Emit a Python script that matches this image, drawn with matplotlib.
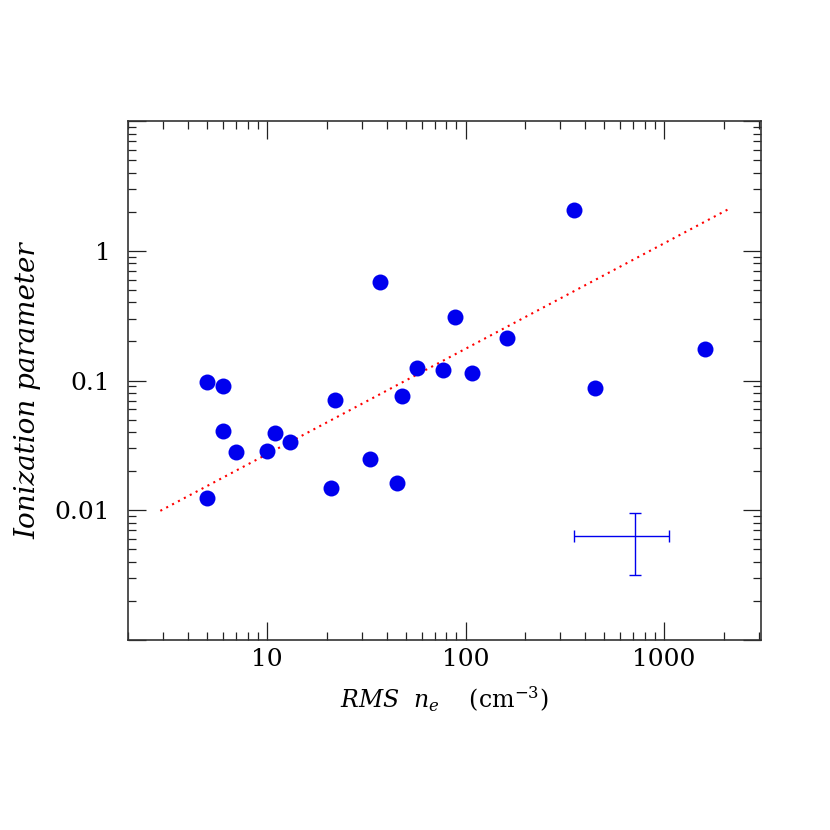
import matplotlib
matplotlib.use('Agg')
import matplotlib.pyplot as plt
from matplotlib.ticker import LogLocator, FixedLocator, FixedFormatter, NullFormatter

plt.rcParams['font.family'] = ['DejaVu Serif']
plt.rcParams['mathtext.fontset'] = 'dejavuserif'

# RMS electron density (cm^-3) and ionization parameter
density = [5, 6, 6, 7, 5, 10, 11, 13, 21, 22, 33, 37, 45, 48,
           57, 77, 88, 108, 162, 352, 449, 1600]
ionization = [0.097, 0.091, 0.041, 0.028, 0.0125, 0.0284, 0.0395, 0.0337,
              0.0149, 0.0705, 0.0247, 0.578, 0.0161, 0.0758,
              0.125, 0.120, 0.308, 0.114, 0.213, 2.07, 0.0877, 0.176]

# fitted relation (dotted line endpoints)
fit_x = [2.9, 2120]
fit_y = [0.0099, 2.1]

# typical error bar
err_x = [711]
err_y = [0.00634]
err_x_lo, err_x_hi = 350, 1062
err_y_lo, err_y_hi = 0.00316, 0.0095

x_ticks = [1, 10, 100, 1000, 10000]
x_ticklabels = ['', '10', '100', '1000', '']
y_ticks = [0.001, 0.01, 0.1, 1, 10]
y_ticklabels = ['', '0.01', '0.1', '1', '']

fig = plt.figure(figsize=(8.3, 8.3), dpi=100)
ax = fig.add_axes([0.1546, 0.2289, 0.7623, 0.6253])

ax.plot(fit_x, fit_y, color='red', ls=(0, (1, 2.2)), lw=1.5)
ax.plot(density, ionization, 'o', color='#0000ee', ms=11.5, mec='none')
ax.errorbar(err_x, err_y,
            xerr=[[err_x[0] - err_x_lo], [err_x_hi - err_x[0]]],
            yerr=[[err_y[0] - err_y_lo], [err_y_hi - err_y[0]]],
            fmt='none', ecolor='#0000ee', elinewidth=1, capsize=4, capthick=1)

ax.set_xscale('log')
ax.set_yscale('log')
ax.set_xlim(2, 3080)
ax.set_ylim(0.001, 10)

ax.xaxis.set_major_locator(FixedLocator(x_ticks))
ax.xaxis.set_major_formatter(FixedFormatter(x_ticklabels))
ax.yaxis.set_major_locator(FixedLocator(y_ticks))
ax.yaxis.set_major_formatter(FixedFormatter(y_ticklabels))
ax.xaxis.set_minor_locator(LogLocator(base=10, subs=range(2, 10), numticks=20))
ax.yaxis.set_minor_locator(LogLocator(base=10, subs=range(2, 10), numticks=20))
ax.xaxis.set_minor_formatter(NullFormatter())
ax.yaxis.set_minor_formatter(NullFormatter())

ax.tick_params(which='both', direction='in', top=True, right=True,
               labelsize=18, color='#222222')
ax.tick_params(which='major', length=13, width=0.9, pad=6)
ax.tick_params(which='minor', length=6, width=0.9)
ax.tick_params(axis='y', which='major', pad=13)
for s in ax.spines.values():
    s.set_linewidth(1.2)
    s.set_color('#333333')

ax.set_xlabel(r'$RMS\ \ n_e\ \ \ \ (\mathrm{cm}^{-3})$', fontsize=17)
ax.set_ylabel('Ionization parameter', fontsize=20, fontstyle='italic')
ax.yaxis.set_label_coords(-0.138, 0.48)
ax.xaxis.set_label_coords(0.5, -0.085)

fig.savefig('out.png', dpi=100)
